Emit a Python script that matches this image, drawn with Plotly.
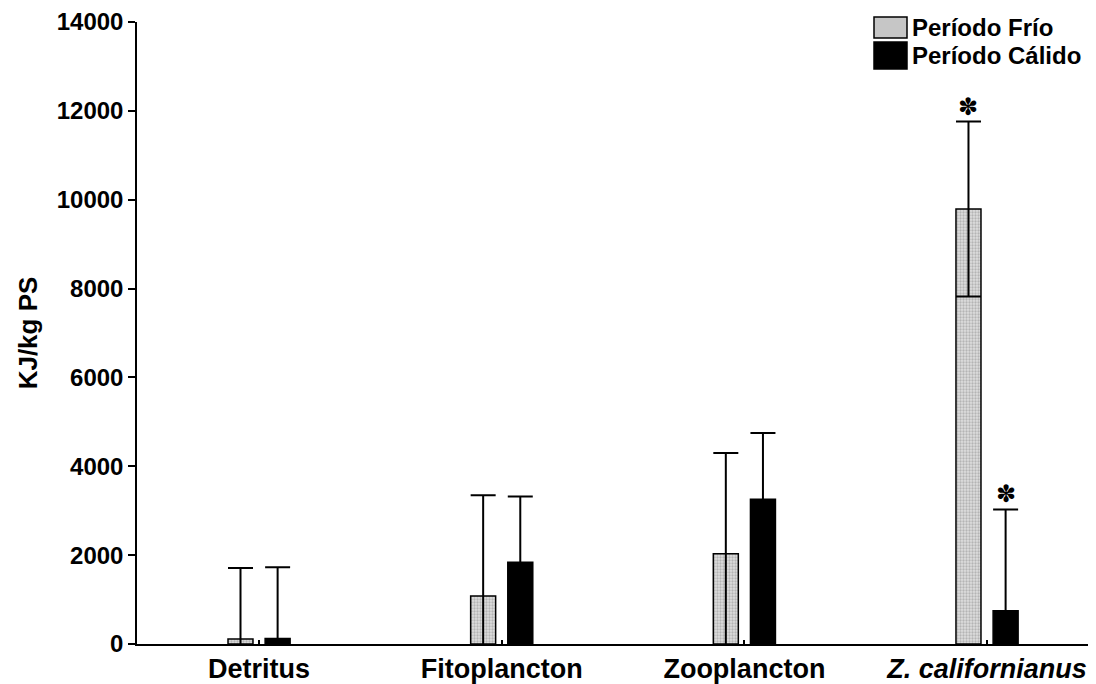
import plotly.graph_objects as go

# ---- data ----
categories = ["Detritus", "Fitoplancton", "Zooplancton", "Z. californianus"]
tick_labels = ["Detritus", "Fitoplancton", "Zooplancton", "<i>Z. californianus</i>"]
frio_values = [110, 1080, 2030, 9790]
frio_errors = [1600, 2270, 2270, 1970]
calido_values = [125, 1840, 3260, 750]
calido_errors = [1600, 1480, 1490, 2280]
significant_frio = [False, False, False, True]
significant_calido = [False, False, False, True]
series_names = ["Período Frío", "Período Cálido"]
y_ticks = [0, 2000, 4000, 6000, 8000, 10000, 12000, 14000]

x_pos = list(range(len(categories)))
FONT = "Liberation Sans, Arial, sans-serif"
BAR_W = 0.103

fig = go.Figure()
fig.add_trace(go.Bar(
    x=x_pos, y=frio_values, name=series_names[0],
    width=BAR_W, offset=-0.128,
    marker=dict(color="#c6c6c6", line=dict(color="black", width=1.5),
                pattern=dict(shape=".", fgcolor="#8a8a8a", bgcolor="#dedede",
                             size=3, solidity=0.45)),
    error_y=dict(type="data", array=frio_errors, visible=True,
                 color="black", thickness=2, width=12.5),
    showlegend=False,
))
fig.add_trace(go.Bar(
    x=x_pos, y=calido_values, name=series_names[1],
    width=BAR_W, offset=0.025,
    marker=dict(color="black", line=dict(color="black", width=1.5)),
    error_y=dict(type="data", array=calido_errors, visible=True,
                 color="black", thickness=2, width=12.5),
    showlegend=False,
))

# significance asterisks
for i in x_pos:
    if significant_frio[i]:
        fig.add_annotation(x=i - 0.0765, y=frio_values[i] + frio_errors[i],
                           text="✽", showarrow=False, yanchor="bottom", yshift=-1,
                           font=dict(family="DejaVu Sans", size=24, color="black"))
    if significant_calido[i]:
        fig.add_annotation(x=i + 0.0765, y=calido_values[i] + calido_errors[i],
                           text="✽", showarrow=False, yanchor="bottom", yshift=-1,
                           font=dict(family="DejaVu Sans", size=24, color="black"))

# page body has an 8px margin: compensate so the plot lands where the reference has it
OFF = 8
W, H = 1096 - OFF, 684 - OFF
L, R, T, B = 137 - OFF, 0, 22 - OFF, 40
pw, ph = W - L - R, H - T - B

def px(xp):  # window pixel -> paper x
    return (xp - OFF - L) / pw

def py(yp):  # window pixel -> paper y
    return (H - B - (yp - OFF)) / ph

legend_rows = [(series_names[0], "#c6c6c6", 17, 38), (series_names[1], "black", 42, 69)]
for name, col, y0, y1 in legend_rows:
    fig.add_shape(type="rect", xref="paper", yref="paper",
                  x0=px(874), x1=px(907), y0=py(y1), y1=py(y0),
                  fillcolor=col, line=dict(color="black", width=1.5))
    fig.add_annotation(xref="paper", yref="paper", x=px(910), y=py((y0 + y1) / 2),
                       text="<b>" + name + "</b>", showarrow=False,
                       xanchor="left", yanchor="middle",
                       font=dict(family=FONT, size=24, color="black"))

fig.update_layout(
    width=W, height=H,
    margin=dict(l=L, r=R, t=T, b=B, pad=0),
    plot_bgcolor="white", paper_bgcolor="white",
    barmode="overlay",
    font=dict(family=FONT, color="black"),
)
fig.update_xaxes(
    range=[-0.503, 3.449], tickvals=x_pos,
    ticktext=["<b>" + t + "</b>" for t in tick_labels],
    tickfont=dict(family=FONT, size=27, color="black"),
    showgrid=False, zeroline=False,
    showline=True, linecolor="black", linewidth=1.5,
    ticks="inside", ticklen=4, tickwidth=1.5, tickcolor="black",
)
fig.update_yaxes(
    range=[0, 14000], tickvals=y_ticks, ticktext=[str(v) for v in y_ticks],
    tickfont=dict(family=FONT, size=24, color="black", weight="bold"),
    showgrid=False, zeroline=False,
    showline=True, linecolor="black", linewidth=1.5,
    ticks="outside", ticklen=7, tickwidth=1.5, tickcolor="black",
    title=dict(text="<b>KJ/kg PS</b>", font=dict(family=FONT, size=26, color="black"),
               standoff=12),
)

fig.write_html("out.html")
